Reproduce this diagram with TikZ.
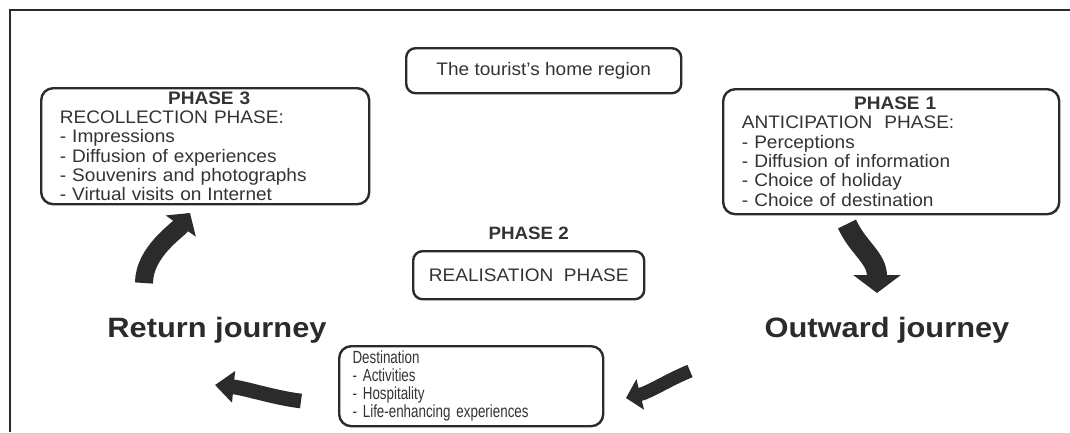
\documentclass[tikz,border=0pt]{standalone}
\usepackage{fontspec}
\setmainfont{Liberation Sans}[FakeStretch=1.05]
\newfontfamily\narrowfont{Liberation Sans}[FakeStretch=0.76]
\newfontfamily\widefont{Liberation Sans}[FakeStretch=1.1]
\usetikzlibrary{positioning, arrows.meta}
\definecolor{inkgray}{HTML}{2B2B2B}
\definecolor{textgray}{HTML}{333333}

\begin{document}
\begin{tikzpicture}[x=0.75pt, y=-0.75pt,
    phasebox/.style={draw=inkgray, line width=1.8pt, rounded corners=9pt, anchor=north west,
      align=left, inner xsep=14pt, inner ysep=0pt, text=textgray, font=\fontsize{13.6}{14.5}\selectfont},
    plainbox/.style={draw=inkgray, line width=1.8pt, rounded corners=7pt, anchor=north west,
      align=center, inner sep=0pt, text=textgray, font=\fontsize{13.6}{14.5}\selectfont},
    journey/.style={text=inkgray, font=\widefont\bfseries\fontsize{21}{24}\selectfont},
    flowarrow/.style n args={3}{draw=inkgray, line width=#1, -{Triangle[width=#2, length=#3]}},
  ]
        \useasboundingbox (0,0) rectangle (1070,432);

        %-----Frame-----
        \draw[inkgray, line width=1.6pt] (1070,10) -- (10,10) -- (10,432);

        %-----Boxes-----

        % Home Region
        \node[plainbox, minimum width=206.25pt, minimum height=33.75pt] (home) at (405,47) {The tourist's home region};

        % Phase 3 Recollection
        \node[phasebox, text width=218pt, minimum height=87pt] (phasethree) at (40,87)
          {\makebox[\hsize]{\hspace{6pt}\bfseries PHASE 3}\\
           RECOLLECTION PHASE:\\
           - Impressions\\
           - Diffusion of experiences\\
           - Souvenirs and photographs\\
           - Virtual visits on Internet};

        % Phase 1 Anticipation
        \node[phasebox, text width=224pt, minimum height=93.75pt] (phaseone) at (722,88)
          {\makebox[\hsize]{\hspace{6pt}\bfseries PHASE 1}\\
           ANTICIPATION\ \ PHASE:\\
           - Perceptions\\
           - Diffusion of information\\
           - Choice of holiday\\
           - Choice of destination};

        % Phase 2 Realisation
        \node[plainbox, minimum width=173.25pt, minimum height=36pt] (realise) at (412,250) {REALISATION\ \ PHASE};
        \node[above=4pt of realise, text=textgray, font=\bfseries\fontsize{13.4}{15}\selectfont] (phasetwo) {PHASE 2};

        % Destination
        \node[phasebox, inner xsep=10pt, text width=178pt, minimum height=60pt,
          font=\narrowfont\fontsize{13.2}{13.6}\selectfont] (dest) at (338,345)
          {Destination\\
           - Activities\\
           - Hospitality\\
           - Life-enhancing experiences};

        %-----Journeys-----
        \node[journey] (return) at (217,330) {Return journey};
        \node[journey] (outward) at (887,330) {Outward journey};

        %-----Arrows-----
        \coordinate (outtail) at (847,224);
        \coordinate (outtip) at (877,293);
        \coordinate (desttail) at (690,371);
        \coordinate (desttip) at (626,398);
        \coordinate (rettail) at (301,401);
        \coordinate (rettip) at (215,385);
        \coordinate (uptail) at (144,283);
        \coordinate (uptip) at (190,213);

        % Phase 1 to Outward journey
        \draw[flowarrow={15pt}{35pt}{13.5pt}] (outtail) .. controls (858,248) and (877,258) .. (outtip);

        % Outward journey to Destination
        \draw[flowarrow={10pt}{23pt}{11pt}] (desttail) .. controls (668,380) and (650,392) .. (desttip);

        % Destination to Return journey
        \draw[flowarrow={11pt}{23pt}{14pt}] (rettail) .. controls (275,398) and (245,388) .. (rettip);

        % Return journey to Phase 3
        \draw[flowarrow={13.5pt}{27pt}{12pt}] (uptail) .. controls (144,252) and (178,230) .. (uptip);

\end{tikzpicture}
\end{document}
